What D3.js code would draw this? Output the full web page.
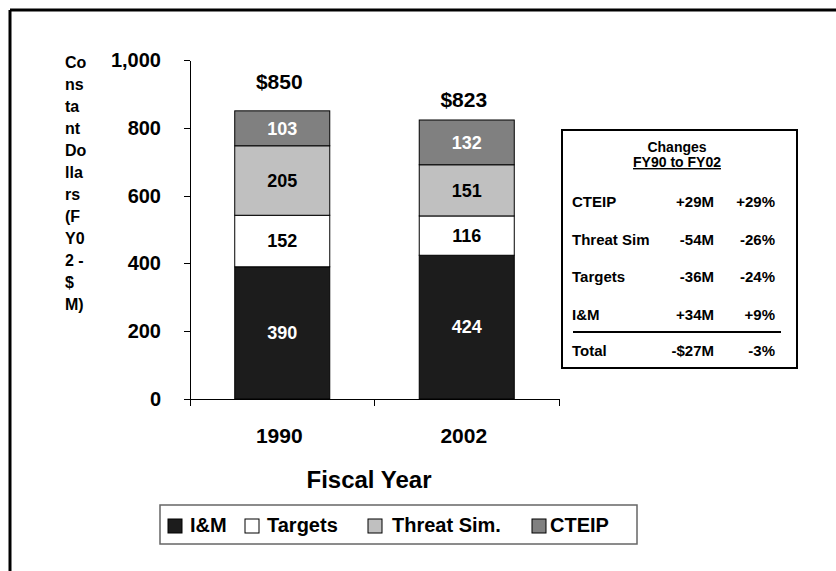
<!DOCTYPE html>
<html lang="en">
<head>
  <meta charset="UTF-8">
  <title>Constant Dollars by Fiscal Year</title>
  <style>
    body { margin: 0; background: #fff; }
    svg { display: block; }
    text { font-family: "Liberation Sans", Arial, sans-serif; font-weight: bold; fill: #000; }
    .axis path, .axis line { stroke: #000; stroke-width: 1; shape-rendering: crispEdges; }
    .axis text { font-size: 20px; }
  </style>
</head>
<body>
  <div id="chart"></div>

  <script src="https://d3js.org/d3.v7.min.js"></script>
  <script>
    // Data
    const years = ["1990", "2002"];
    const series = ["I&M", "Targets", "Threat Sim.", "CTEIP"];
    const iam = [390, 424];
    const targets = [152, 116];
    const threatSim = [205, 151];
    const cteip = [103, 132];
    const totals = [850, 823];
    const yTicks = [0, 200, 400, 600, 800, 1000];
    const yTitleLines = ["Co", "ns", "ta", "nt", "Do", "lla", "rs", "(F", "Y0", "2 -", "$", "M)"];

    // changes table
    const changeLabels = ["CTEIP", "Threat Sim", "Targets", "I&M"];
    const changeAmounts = ["+29M", "-54M", "-36M", "+34M"];
    const changePercents = ["+29%", "-26%", "-24%", "+9%"];
    const totalRow = ["Total", "-$27M", "-3%"];

    const colors = ["#1c1c1c", "#ffffff", "#c0c0c0", "#808080"];
    const labelColors = ["#fff", "#000", "#000", "#fff"];
    const totalGap = [22, 13];

    const W = 836, H = 571;
    const svg = d3.select("#chart").append("svg")
      .attr("width", W).attr("height", H);

    // page frame (top + left only)
    svg.append("line").attr("x1", 10).attr("x2", W).attr("y1", 10).attr("y2", 10)
      .attr("stroke", "#000").attr("stroke-width", 3);
    svg.append("line").attr("x1", 10).attr("x2", 10).attr("y1", 10).attr("y2", H)
      .attr("stroke", "#000").attr("stroke-width", 3);

    // scales
    const x = d3.scaleBand().domain(years).range([190, 559])
      .paddingInner(0.485).paddingOuter(0.2425);
    const y = d3.scaleLinear().domain([0, 1000]).range([399, 60]);

    // stacked data
    const rows = years.map((yr, i) => ({
      year: yr, "I&M": iam[i], "Targets": targets[i], "Threat Sim.": threatSim[i], "CTEIP": cteip[i]
    }));
    const stacked = d3.stack().keys(series)(rows);

    // y axis
    svg.append("g")
      .attr("class", "axis")
      .attr("transform", "translate(190,0)")
      .call(d3.axisLeft(y).tickValues(yTicks).tickSize(6).tickSizeOuter(0)
        .tickPadding(23).tickFormat(d3.format(",")));

    // x axis: line + ticks on band boundaries
    const xAxis = svg.append("g").attr("class", "axis");
    const [x0, x1] = x.range();
    xAxis.append("line").attr("x1", x0 - 6).attr("x2", x1).attr("y1", y(0)).attr("y2", y(0));
    const bounds = [x0].concat(years.map(d => x(d) + x.bandwidth() + x.step() * x.paddingInner() / 2));
    bounds[bounds.length - 1] = x1;
    xAxis.selectAll(".xt").data(bounds).join("line")
      .attr("x1", d => d).attr("x2", d => d)
      .attr("y1", y(0)).attr("y2", y(0) + 7);

    svg.append("g")
      .attr("class", "axis")
      .attr("transform", "translate(-3," + y(0) + ")")
      .call(d3.axisBottom(x).tickSize(0).tickPadding(29))
      .call(g => g.select(".domain").remove())
      .selectAll("text").style("font-size", "21px");

    // bars
    stacked.forEach((layer, si) => {
      const g = svg.append("g");
      g.selectAll("rect").data(layer).join("rect")
        .attr("x", d => x(d.data.year))
        .attr("width", x.bandwidth())
        .attr("y", d => y(d[1]))
        .attr("height", d => y(d[0]) - y(d[1]))
        .attr("fill", colors[si])
        .attr("stroke", "#000")
        .attr("stroke-width", 1);
      g.selectAll("text").data(layer).join("text")
        .attr("x", d => x(d.data.year) + x.bandwidth() / 2)
        .attr("y", d => (y(d[0]) + y(d[1])) / 2)
        .attr("dy", "0.35em")
        .attr("text-anchor", "middle")
        .style("font-size", "18px")
        .style("fill", labelColors[si])
        .text(d => d[1] - d[0]);
    });

    // totals above bars
    svg.selectAll(".total").data(totals).join("text")
      .attr("x", (d, i) => x(years[i]) + x.bandwidth() / 2 - 3)
      .attr("y", (d, i) => y(d) - totalGap[i])
      .attr("text-anchor", "middle")
      .style("font-size", "21px")
      .text(d => "$" + d);

    // y axis title, wrapped
    svg.append("text")
      .attr("x", 65).attr("y", 68)
      .style("font-size", "16px")
      .selectAll("tspan").data(yTitleLines).join("tspan")
      .attr("x", 65)
      .attr("dy", (d, i) => i === 0 ? 0 : 22)
      .text(d => d);

    // x axis title
    svg.append("text")
      .attr("x", 369).attr("y", 488)
      .attr("text-anchor", "middle")
      .style("font-size", "24px")
      .text("Fiscal Year");

    // legend
    const legend = svg.append("g");
    legend.append("rect")
      .attr("x", 160).attr("y", 505).attr("width", 477).attr("height", 39)
      .attr("fill", "#fff").attr("stroke", "#666").attr("stroke-width", 1.5);
    const legendX = [168, 245, 368, 532];
    const legendTextDx = [22, 22, 24, 18];
    const items = legend.selectAll(".item").data(series).join("g")
      .attr("transform", (d, i) => "translate(" + legendX[i] + ",519)");
    items.append("rect")
      .attr("width", 14).attr("height", 14)
      .attr("fill", (d, i) => colors[i])
      .attr("stroke", "#000").attr("stroke-width", 1);
    items.append("text")
      .attr("x", (d, i) => legendTextDx[i])
      .attr("y", 13)
      .style("font-size", "20px")
      .text(d => d);

    // changes table
    const tbl = svg.append("g");
    tbl.append("rect")
      .attr("x", 562).attr("y", 130).attr("width", 235).attr("height", 238)
      .attr("fill", "#fff").attr("stroke", "#000").attr("stroke-width", 2);
    tbl.append("text")
      .attr("x", 677).attr("y", 152).attr("text-anchor", "middle")
      .style("font-size", "14px").text("Changes");
    tbl.append("text")
      .attr("x", 677).attr("y", 167).attr("text-anchor", "middle")
      .style("font-size", "14px").style("text-decoration", "underline")
      .text("FY90 to FY02");

    const rowY = d3.scalePoint().domain(changeLabels).range([207, 320]);
    const cells = tbl.selectAll(".row").data(changeLabels).join("g")
      .attr("transform", d => "translate(0," + rowY(d) + ")");
    cells.append("text").attr("x", 572).style("font-size", "15px").text(d => d);
    cells.append("text").attr("x", 714).attr("text-anchor", "end")
      .style("font-size", "15px").text((d, i) => changeAmounts[i]);
    cells.append("text").attr("x", 775).attr("text-anchor", "end")
      .style("font-size", "15px").text((d, i) => changePercents[i]);

    tbl.append("line")
      .attr("x1", 573).attr("x2", 781).attr("y1", 332).attr("y2", 332)
      .attr("stroke", "#000").attr("stroke-width", 2);
    const totalX = [572, 714, 775];
    tbl.selectAll(".tot").data(totalRow).join("text")
      .attr("x", (d, i) => totalX[i]).attr("y", 356)
      .attr("text-anchor", (d, i) => i === 0 ? "start" : "end")
      .style("font-size", "15px")
      .text(d => d);
  </script>
</body>
</html>
